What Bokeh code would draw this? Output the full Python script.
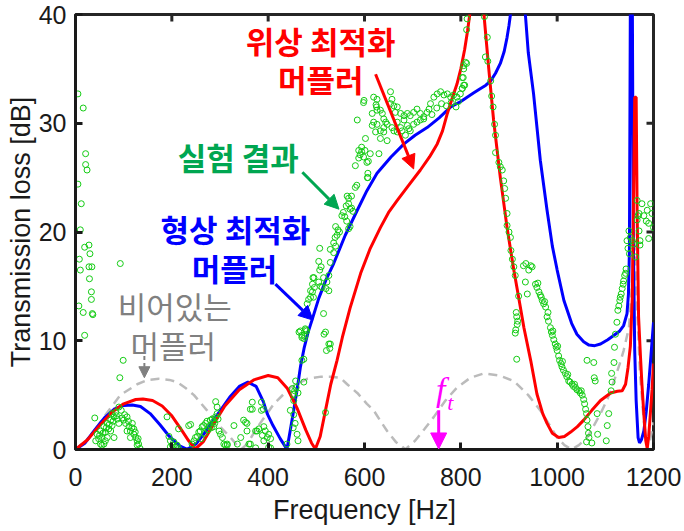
import math
from bokeh.plotting import figure
from bokeh.models import Range1d, Arrow, NormalHead, Label, FixedTicker
from bokeh.embed import file_html
from bokeh.resources import INLINE

# ---------------- data ----------------
x_ticks = [0, 200, 400, 600, 800, 1000, 1200]
y_ticks = [0, 10, 20, 30, 40]

# empty muffler (grey dashed)
empty_f = [0, 30, 66, 93, 128, 150, 173, 195, 211, 230, 246, 273, 300, 322, 335, 345, 356, 380,
           412, 446, 481, 510, 529, 550, 564, 585, 605, 619, 635, 647, 665, 685, 705, 725, 744,
           768, 792, 820, 848, 880, 910, 940, 965, 985, 1000, 1015, 1030, 1045, 1062, 1075, 1090,
           1105, 1118, 1130, 1138, 1149, 1155, 1160, 1165, 1172, 1180, 1187, 1193, 1200]
empty_tl = [0, 1.2, 3.4, 5.0, 6.0, 6.4, 6.5, 6.4, 6.2, 5.6, 5.0, 3.6, 2.1, 1.1, 0.4, 0.05, 0.5, 2.2,
            4.2, 5.7, 6.5, 6.7, 6.7, 6.6, 6.0, 5.2, 4.2, 3.6, 2.5, 1.7, 0.7, 0.02, 0.8, 1.9, 3.0,
            4.5, 5.7, 6.6, 7.0, 6.8, 6.3, 5.0, 3.6, 2.2, 1.1, 0.4, 0.02, 0.4, 1.1, 2.1, 3.3,
            4.7, 6.3, 7.9, 9.1, 11.2, 15.0, 20.0, 14.0, 7.0, 2.5, 0.4, 0.9, 2.5]

# topology optimised muffler (red)
topo_f = [0, 25, 50, 75, 100, 125, 140, 160, 180, 200, 220, 235, 249, 265, 285, 310, 340, 370,
          400, 420, 440, 460, 478, 490, 498, 508, 519, 530, 543, 554, 570, 592, 612, 633, 650,
          668, 690, 716, 735, 751, 762, 772, 782, 792, 800, 808, 814, 820, 823,
          845, 848, 858, 868, 882, 896, 910, 920, 931, 945, 958, 970, 979, 990, 1003, 1015,
          1028, 1042, 1055, 1072, 1090, 1111, 1125, 1135, 1142, 1147, 1152, 1156, 1159, 1161,
          1164, 1166, 1169, 1173, 1176, 1180, 1184, 1187, 1190, 1193, 1197, 1200]
topo_tl = [0, 0.9, 2.2, 3.4, 4.2, 4.6, 4.65, 4.5, 4.0, 3.1, 1.8, 0.8, 0.05, 0.7, 2.2, 4.0, 5.5, 6.4,
           6.8, 6.6, 5.6, 3.8, 1.8, 0.6, 0.05, 1.2, 3.6, 6.0, 8.2, 10.3, 13.0, 16.2, 18.5, 20.4, 21.8,
           22.9, 24.2, 25.7, 26.9, 28.1, 29.3, 30.9, 32.3, 33.6, 35.0, 36.8, 38.5, 40.5, 42.0,
           42.0, 40.0, 35.0, 30.3, 25.0, 20.4, 16.5, 14.0, 11.2, 8.2, 5.1, 3.3, 2.4, 1.5, 1.1, 1.2,
           1.6, 2.1, 2.7, 3.6, 4.5, 5.2, 5.35, 5.4, 6.0, 7.5, 9.5, 14.0, 25.0, 32.4,
           32.4, 22.0, 12.2, 8.5, 6.0, 3.2, 0.8, 0.1, 1.2, 3.0, 5.5, 7.9]

# shape optimised muffler (blue)
shape_f = [0, 20, 40, 60, 80, 100, 118, 135, 155, 175, 195, 215, 232, 250, 266, 285, 301, 320,
           340, 358, 375, 390, 398, 410, 425, 439, 446, 453, 460, 467, 475, 483, 491, 505, 520,
           536, 560, 585, 605, 626, 655, 682, 705, 730, 755, 779, 800, 813, 827, 841, 852, 862,
           872, 882, 890, 896, 900, 903, 905,
           932, 934, 940, 951, 965, 979, 990, 1000, 1014, 1030, 1041, 1055, 1066, 1078, 1090,
           1105, 1118, 1130, 1138, 1145, 1148, 1150, 1151, 1152,
           1156, 1158, 1161, 1164, 1168, 1171, 1175, 1180, 1185, 1190, 1195, 1200]
shape_tl = [0, 0.6, 1.8, 2.9, 3.7, 4.05, 4.1, 3.95, 3.3, 2.3, 1.2, 0.35, 0.02, 0.5, 1.4, 2.6, 3.6, 4.8,
            5.8, 6.2, 5.8, 4.4, 3.3, 2.2, 1.0, 0.02, 1.8, 3.6, 5.5, 7.6, 9.4, 10.8, 11.9, 13.9, 15.6,
            17.1, 19.7, 22.0, 23.8, 25.4, 26.9, 28.1, 28.9, 29.6, 30.5, 31.5, 32.0, 32.4, 32.8, 33.2, 33.5, 33.9,
            34.6, 35.5, 36.6, 37.9, 39.0, 40.0, 41.0,
            42.0, 40.0, 36.5, 32.7, 26.6, 22.0, 18.7, 16.5, 13.7, 11.6, 10.6, 9.9, 9.6, 9.55, 9.7,
            10.1, 10.5, 10.9, 11.4, 12.5, 14.3, 18.3, 30.0, 42.0,
            42.0, 20.0, 9.1, 4.5, 1.1, 0.6, 0.9, 1.7, 3.5, 6.0, 8.8, 11.7]

# experiment (green circles)
exp_f = [5, 16, 21, 21, 24, 5, 12, 10, 28, 19, 30, 8, 93, 28, 34, 10, 29, 33, 33, 7, 16, 36, 35, 19, 99, 92, 40,
         45, 48, 52, 55, 59, 62, 66, 59, 69, 73, 76, 80, 73, 83, 87, 90, 80, 66, 52, 55, 62, 76, 90,
         42, 50, 57, 64, 70, 78, 85, 95, 97, 102, 110, 117, 124, 130,
         100, 104, 107, 111, 114, 118, 121, 125, 128, 131, 134, 107, 114, 121, 128,
         190, 194, 197, 201, 204, 208, 211, 214, 197, 214, 235, 239,
         242, 246, 249, 253, 256, 259, 263, 266, 270, 273, 277, 280, 284, 287, 291, 294, 287, 298,
         301, 305, 308, 311, 315, 291, 294, 261, 268, 275, 282, 289, 296,
         367, 367, 386, 386, 390, 349, 353, 356, 356, 374, 381, 391, 394, 401, 398, 405, 391, 388,
         363, 374, 401, 405, 343, 329, 315, 336, 360, 363, 377,
         439, 446, 453, 457, 464, 474, 470, 476, 480, 478, 470, 474, 458, 455, 450, 462, 453, 453,
         456, 452, 460, 462, 526, 528, 521, 519, 519, 467, 470, 474, 481, 484, 488, 495, 509, 515,
         520, 526, 516, 529,
         477, 515, 488, 492, 494, 496, 492, 505, 512, 526, 522, 493, 507, 505, 510, 529, 507, 536,
         540, 536, 529, 539, 540, 543, 545, 548, 567, 570, 563, 553, 559, 556, 562, 567, 573, 564,
         567, 570, 576, 573, 581, 584, 607, 607, 581, 588, 591, 594, 588, 598, 605, 608, 612, 601,
         594, 630, 602, 585, 598, 599, 606,
         619, 626, 625, 624, 616, 626, 633, 637, 640, 644, 647, 640, 633, 626, 619, 616, 623, 633,
         647, 640, 654, 657, 654, 661, 668, 664, 675, 682, 689, 695, 702, 709, 716, 723, 730, 734,
         737, 744, 751, 758, 765, 772, 779, 785, 792, 799, 803, 806, 803, 806, 810,
         657, 661, 668, 675, 682, 689, 692, 685, 695, 702, 709, 716, 723, 668, 678,
         760, 770, 780, 790, 795, 750, 740,
         812, 813, 812, 806, 805, 808, 803,
         849, 855, 851, 856, 862, 864, 867, 870, 872, 872, 879, 882, 886, 889, 891, 893, 896, 896,
         900, 903, 904, 907, 910, 913, 920,
         915, 918, 917, 914, 913, 916, 916,
         930, 935, 941, 948, 945, 934, 938, 955, 958, 962, 965, 969, 972, 976, 979, 982, 986, 988,
         990, 993, 996, 998, 1000, 1003, 1005, 1008, 1010, 1013, 1017, 1020, 1024, 1027, 1031, 1034,
         1038, 1041, 1045, 1048, 1052, 1055, 1057, 1059, 1061, 1062, 1064, 1065, 1066, 1072, 1061,
         960, 967, 974, 981, 991, 1001, 1011, 1022, 1036, 1050,
         1076, 1077, 1079, 1083, 1084, 1102, 1104, 1107, 1112, 1114, 1113, 1118, 1119, 1121, 1124,
         1126, 1128, 1130, 1131, 1133, 1135, 1137, 1138, 1140, 1142, 1143, 1062,
         1149, 1152, 1145, 1156, 1159, 1163, 1166, 1176, 1187, 1194, 1197, 1200, 1190, 1170, 1166,
         1170, 1190, 1172, 1172, 1180, 1185, 1168, 1147, 1150]
exp_tl = [32.7, 31.4, 27.2, 26.2, 25.7, 24.4, 22.6, 20.2, 18.8, 18.6, 18.0, 17.5, 17.1, 16.8, 16.8, 16.5, 15.7,
          14.5, 13.8, 13.2, 12.6, 12.4, 12.5, 10.5, 8.2, 6.6, 2.9,
          1.4, 1.0, 1.7, 1.1, 2.1, 1.6, 2.4, 0.5, 1.9, 2.7, 2.2, 3.0, 1.7, 3.4, 2.8, 3.9, 1.1, 1.1, 0.5,
          0.4, 0.8, 3.3, 2.4,
          0.8, 1.3, 1.5, 2.0, 2.3, 2.6, 3.1, 3.6, 2.9, 3.2, 2.6, 2.0, 1.6, 1.0,
          2.7, 2.4, 3.0, 2.1, 1.7, 2.4, 1.4, 1.1, 0.8, 0.5, 0.1, 1.7, 1.1, 1.9, 0.4,
          3.0, 1.2, 0.8, 0.4, 0.7, 0.25, 0.4, 0.1, 0.25, 1.9, 2.2, 2.3,
          0.5, 0.8, 1.1, 1.2, 1.6, 1.7, 2.1, 2.2, 2.4, 2.6, 2.1, 2.7, 2.8, 2.6, 3.0, 3.3, 2.1, 1.7,
          1.4, 1.1, 0.5, 0.4, 0.4, 4.4, 3.9, 1.0, 1.5, 1.8, 2.0, 2.4, 2.8,
          4.35, 3.7, 4.35, 3.6, 3.7, 2.7, 2.5, 2.4, 1.7, 1.7, 1.9, 2.1, 1.7, 1.4, 1.1, 1.0, 0.8, 1.3,
          0.5, 0.15, 0.2, 0.15, 1.1, 2.2, 0.5, 0.5, 0.5, 3.7, 1.7,
          0.5, 3.6, 5.1, 6.3, 10.8, 10.2, 10.5, 10.4, 10.9, 11.0, 8.2, 6.2, 5.7, 5.4, 5.6, 5.2, 4.5, 3.2,
          2.4, 2.0, 1.4, 0.8, 9.7, 9.3, 9.1, 10.8, 3.4, 10.9, 10.3, 8.3, 13.4, 13.8, 14.6, 15.8, 15.0, 15.8,
          14.8, 16.0, 10.6, 9.7,
          11.1, 12.5, 14.0, 14.5, 14.0, 14.9, 15.2, 15.4, 14.9, 14.6, 15.4, 15.8, 16.5, 17.3, 16.8, 17.2,
          18.5, 18.1, 18.7, 19.0, 18.4, 19.5, 20.5, 19.7, 20.2, 20.0, 20.3, 20.5, 21.0, 21.5, 21.4, 21.8,
          22.4, 22.6, 22.2, 23.3, 23.1, 22.1, 21.9, 23.3, 24.1, 24.3, 25.0, 25.4, 26.1, 26.8, 27.1, 27.4,
          27.5, 26.9, 26.4, 26.5, 27.2, 27.5, 27.8, 27.2, 28.6, 30.3, 31.9, 32.1, 25.0,
          32.4, 32.2, 31.5, 31.7, 30.9, 31.2, 31.2, 30.9, 30.4, 30.1, 29.9, 29.6, 29.3, 29.9, 30.1, 29.8,
          29.2, 28.6, 28.4, 29.2, 32.9, 32.2, 31.8, 31.6, 31.5, 31.0, 30.9, 30.7, 30.9, 30.7, 31.0, 31.3,
          30.9, 30.6, 31.0, 31.3, 31.8, 32.4, 32.7, 32.9, 32.6, 32.7, 32.4, 32.6, 32.4, 32.7, 33.2, 33.5,
          34.2, 35.3, 35.6,
          29.6, 29.3, 29.2, 29.6, 30.3, 29.8, 29.5, 28.9, 29.3, 29.9, 30.1, 30.3, 30.4, 30.1, 29.3,
          31.8, 31.6, 31.9, 31.5, 32.0, 31.4, 30.8,
          35.5, 39.6, 38.6, 35.0, 34.2, 33.5, 33.2,
          39.8, 37.9, 36.1, 35.7, 33.9, 32.5, 31.5, 29.9, 28.9, 27.3, 26.4, 26.0, 25.7, 24.7, 24.0, 23.1,
          21.7, 20.6, 20.0, 19.5, 18.3, 17.5, 16.8, 16.0, 14.1,
          12.6, 11.8, 11.5, 11.0, 10.7, 12.2, 8.3,
          16.9, 17.1, 16.5, 16.8, 16.9, 15.4, 14.3, 15.2, 14.9, 14.5, 14.2, 13.7, 13.4, 13.1, 12.2, 11.8,
          11.2, 10.8, 10.5, 10.1, 9.7, 9.4, 9.1, 8.6, 8.2, 7.9, 7.6, 7.3, 7.0, 6.7, 6.3, 6.2, 6.0, 5.8,
          5.7, 5.5, 5.4, 5.2, 5.0, 4.6, 4.2, 3.7, 3.3, 2.7, 2.1, 1.5, 1.1, 0.6, 0.7,
          15.3, 14.0, 13.6, 12.6, 10.9, 9.5, 8.1, 6.9, 6.0, 5.4,
          8.0, 6.6, 6.3, 3.3, 1.4, 0.8, 2.2, 3.3, 5.4, 6.2, 7.0, 8.0, 9.4, 10.6, 11.7,
          12.8, 13.2, 13.7, 14.0, 14.3, 14.8, 15.2, 15.5, 16.0, 16.2, 16.6, 8.2,
          20.1, 19.5, 19.2, 19.2, 18.9, 17.7, 22.9, 22.6, 22.0, 22.6, 21.7, 20.4, 20.8, 21.7, 21.1,
          20.1, 19.4, 19.2, 18.8, 21.5, 21.0, 21.5, 18.5, 18.0]

# ---------------- figure ----------------
TICK_FONT = "Liberation Sans"
KR_FONT = "Noto Sans CJK KR"
X_MIN, X_MAX, Y_MIN, Y_MAX = 0, 1200, 0, 40

p = figure(width=684, height=531, x_range=Range1d(X_MIN, X_MAX), y_range=Range1d(Y_MIN, Y_MAX),
           output_backend="svg", toolbar_location=None,
           min_border_left=75, min_border_right=31, min_border_top=14, min_border_bottom=82)
p.grid.visible = False
p.background_fill_color = "white"
p.border_fill_color = "white"
p.outline_line_color = "#262626"
p.outline_line_width = 3

p.xaxis.ticker = FixedTicker(ticks=x_ticks)
p.yaxis.ticker = FixedTicker(ticks=y_ticks)
p.xaxis.axis_label = "Frequency [Hz]"
p.yaxis.axis_label = "Transmission loss [dB]"
for ax in (p.xaxis[0], p.yaxis[0]):
    ax.axis_line_width = 3
    ax.axis_line_color = "#1a1a1a"
    ax.major_tick_in = 7
    ax.major_tick_out = 0
    ax.minor_tick_in = 0
    ax.minor_tick_out = 0
    ax.major_tick_line_width = 3
    ax.major_tick_line_color = "#1a1a1a"
    ax.major_label_text_font = TICK_FONT
    ax.major_label_text_font_size = "25px"
    ax.major_label_text_color = "#1a1a1a"
    ax.axis_label_text_font = TICK_FONT
    ax.axis_label_text_font_size = "27px"
    ax.axis_label_text_font_style = "normal"
    ax.axis_label_text_color = "#1a1a1a"
p.xaxis.major_label_standoff = 18
p.xaxis.axis_label_standoff = 6
p.yaxis.major_label_standoff = 9
p.yaxis.axis_label_standoff = 0

# inward ticks on the top and right edges (dash markers centred on the frame edge, clipped by it)
p.scatter(x_ticks, [Y_MAX] * len(x_ticks), marker="dash", size=14, angle=math.pi / 2,
          line_color="#262626", line_width=3)
p.scatter([X_MAX] * len(y_ticks), y_ticks, marker="dash", size=14,
          line_color="#262626", line_width=3)

# curves
p.line(empty_f, empty_tl, line_color="#BBBBBB", line_width=2.5, line_dash="9 6")
p.line(shape_f, shape_tl, line_color="#0000FF", line_width=3)
p.line(topo_f, topo_tl, line_color="#FF0000", line_width=3)
p.scatter(exp_f, exp_tl, marker="circle", size=6, fill_color=None,
          line_color="#14CC14", line_width=1)

# ---------------- annotations ----------------
def add_label(x, y, text, color, size="31px", style="bold", font=KR_FONT):
    p.add_layout(Label(x=x, y=y, text=text, text_color=color, text_font=font,
                       text_font_size=size, text_font_style=style,
                       text_align="center", text_baseline="middle"))

add_label(509, 37.6, "위상 최적화", "#FF0000")
add_label(509, 34.1, "머플러", "#FF0000")
add_label(338, 26.9, "실험 결과", "#00A651")
add_label(332, 20.3, "형상 최적화", "#0000FF")
add_label(330, 16.7, "머플러", "#0000FF")
add_label(206, 13.2, "비어있는", "#808080", style="normal")
add_label(203, 9.7, "머플러", "#808080", style="normal")
add_label(758, 5.5, "f", "#FF00FF", size="34px", style="italic", font="Liberation Serif")
add_label(778, 4.3, "t", "#FF00FF", size="22px", style="italic", font="Liberation Serif")

def add_arrow(x0, y0, x1, y1, color, dash="solid", size=14, width=3):
    head = NormalHead(size=size, fill_color=color, line_color=color, line_width=1)
    p.add_layout(Arrow(end=head, x_start=x0, y_start=y0, x_end=x1, y_end=y1,
                       line_color=color, line_width=width, line_dash=dash))

add_arrow(623, 34.5, 702, 25.8, "#FF0000")
add_arrow(471, 25.5, 547, 22.1, "#00A651")
add_arrow(415, 15.2, 493, 11.9, "#0000FF")
add_arrow(143, 8.6, 143, 6.6, "#808080", dash="4 3", size=11, width=2)
add_arrow(754, 3.6, 754, 0.05, "#FF00FF", size=16)

open("out.html", "w").write(file_html(p, INLINE))
